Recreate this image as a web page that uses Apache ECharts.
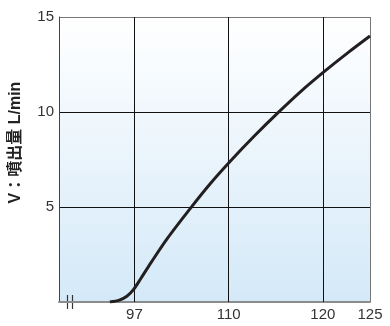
<!DOCTYPE html>
<html>
<head>
<meta charset="utf-8">
<script src="https://cdn.jsdelivr.net/npm/echarts@6/dist/echarts.min.js"></script>
<style>
  html, body { margin: 0; padding: 0; background: #fff; }
  #chart { width: 390px; height: 326px; }
</style>
</head>
<body>
<div id="chart"></div>
<script>
// x is in drawing position units: the axis is compressed left of 110, so 97 sits at 100
const tickValues = [100, 110, 120, 125];
const tickLabels = ['97', '110', '120', '125'];
const flowX = [97.4, 98.4, 99.2, 99.9, 100.7, 101.8, 103.5, 106.0, 108.0, 110.1, 112.7, 115.3, 117.7, 120.1, 122.6, 125.0];
const flowV = [0.0, 0.1, 0.3, 0.65, 1.25, 2.1, 3.35, 4.97, 6.2, 7.37, 8.72, 9.99, 11.1, 12.11, 13.1, 14.0];

const FONT = "'Liberation Sans', Arial, 'Noto Sans CJK JP', sans-serif";

const chart = echarts.init(document.getElementById('chart'));
const option = {
  animation: false,
  grid: {
    left: 57,
    right: 20,
    top: 17,
    bottom: 24,
    show: true,
    borderWidth: 0,
    backgroundColor: new echarts.graphic.LinearGradient(0, 0, 0, 1, [
      { offset: 0, color: '#ffffff' },
      { offset: 1, color: '#d4e9f8' },
    ]),
  },
  xAxis: {
    type: 'value',
    min: 92,
    max: 125,
    axisLine: { show: true, lineStyle: { color: '#8c8c8c', width: 2 } },
    axisTick: { show: false },
    splitLine: { show: false },
    axisLabel: {
      customValues: tickValues,
      margin: 5,
      fontSize: 15,
      color: '#333',
      fontFamily: FONT,
      formatter: (v) => {
        const i = tickValues.indexOf(v);
        return i >= 0 ? tickLabels[i] : '';
      },
    },
  },
  yAxis: {
    type: 'value',
    min: 0,
    max: 15,
    interval: 5,
    name: 'V：噴出量 L/min',
    nameLocation: 'middle',
    nameRotate: 90,
    nameGap: 35,
    nameTextStyle: {
      fontSize: 16,
      fontWeight: 'bold',
      color: '#222',
      fontFamily: FONT,
      padding: [0, 0, 0, 34],
    },
    axisLine: { show: true, lineStyle: { color: '#444', width: 1 } },
    axisTick: { show: false },
    axisLabel: {
      margin: 5,
      fontSize: 15,
      color: '#333',
      fontFamily: FONT,
      formatter: (v) => (v === 0 ? '' : String(v)),
    },
    splitLine: {
      show: true,
      lineStyle: { color: ['#888', '#111', '#111', '#777'], width: 1 },
    },
  },
  series: [
    {
      type: 'line',
      data: flowX.map((x, i) => [x, flowV[i]]),
      smooth: 0.3,
      showSymbol: false,
      lineStyle: { color: '#231f20', width: 3 },
      z: 5,
      markLine: {
        silent: true,
        symbol: 'none',
        label: { show: false },
        data: tickValues.map((v) => ({
          xAxis: v,
          lineStyle: { color: v === 125 ? '#777' : '#111', width: 1, type: 'solid' },
        })),
      },
    },
  ],
  graphic: {
    elements: [
      // axis break mark
      { type: 'line', shape: { x1: 67.5, y1: 295, x2: 67.5, y2: 309 }, style: { stroke: '#333', lineWidth: 1.2 } },
      { type: 'line', shape: { x1: 72.5, y1: 295, x2: 72.5, y2: 309 }, style: { stroke: '#333', lineWidth: 1.2 } },
    ],
  },
};
chart.setOption(option);
</script>
</body>
</html>
